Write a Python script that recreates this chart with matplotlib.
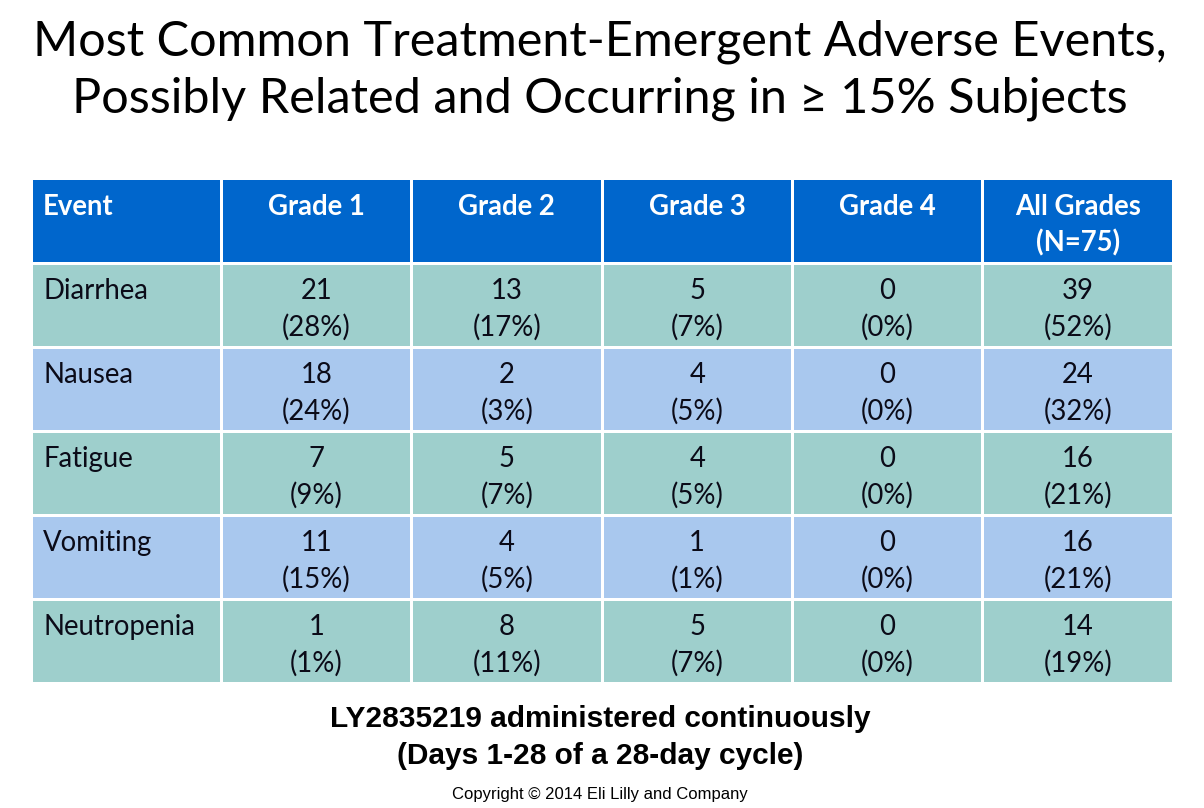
import matplotlib.pyplot as plt
from matplotlib.patches import Rectangle

title = ["Most Common Treatment-Emergent Adverse Events,",
         "Possibly Related and Occurring in \u2265 15% Subjects"]
columns = ["Event", "Grade 1", "Grade 2", "Grade 3", "Grade 4", "All Grades\n(N=75)"]
events = ["Diarrhea", "Nausea", "Fatigue", "Vomiting", "Neutropenia"]
counts = [
    [21, 13, 5, 0, 39],
    [18, 2, 4, 0, 24],
    [7, 5, 4, 0, 16],
    [11, 4, 1, 0, 16],
    [1, 8, 5, 0, 14],
]
pcts = [
    [28, 17, 7, 0, 52],
    [24, 3, 5, 0, 32],
    [9, 7, 5, 0, 21],
    [15, 5, 1, 0, 21],
    [1, 11, 7, 0, 19],
]
subtitle = ["LY2835219 administered continuously", "(Days 1-28 of a 28-day cycle)"]
footer = "Copyright \u00a9 2014 Eli Lilly and Company"

header_col = "#0066CC"
row_cols = ["#9ECFCC", "#A9C8EE"]
text_col = "#0B0B18"

fig = plt.figure(figsize=(12.04, 8.08), dpi=100)
ax = fig.add_axes([0, 0, 1, 1])
ax.set_xlim(0, 1204)
ax.set_ylim(808, 0)
ax.axis("off")

body_font = "Lato"
fs = 19.8

# title
ax.text(600, 42, title[0], ha="center", va="center", fontsize=35, family=body_font, color="black")
ax.text(600, 99, title[1], ha="center", va="center", fontsize=35, family=[body_font, "DejaVu Sans"], color="black")

# table geometry
left, right = 31, 1173
top, head_h, row_h = 180, 83, 84
col_w = (right - left) / len(columns)
gap = 1.5

# header
for j, name in enumerate(columns):
    x0 = left + j * col_w
    ax.add_patch(Rectangle((x0 + gap, top), col_w - 2 * gap, head_h - gap, facecolor=header_col, edgecolor="none"))
    if j == 0:
        ax.text(x0 + 12, top + 27, name, ha="left", va="center", fontsize=fs, weight="bold", color="white", family=body_font)
    else:
        for k, line in enumerate(name.split("\n")):
            ax.text(x0 + col_w / 2, top + 27 + k * 36, line, ha="center", va="center", fontsize=fs, weight="bold", color="white", family=body_font)

# body rows
for i, ev in enumerate(events):
    y0 = top + head_h + i * row_h
    fc = row_cols[i % 2]
    for j in range(len(columns)):
        x0 = left + j * col_w
        ax.add_patch(Rectangle((x0 + gap, y0 + gap), col_w - 2 * gap, row_h - 2 * gap, facecolor=fc, edgecolor="none"))
    ax.text(left + 12, y0 + 28, ev, ha="left", va="center", fontsize=fs, color=text_col, family=body_font)
    for j in range(len(counts[i])):
        xc = left + (j + 1.5) * col_w
        ax.text(xc, y0 + 28, str(counts[i][j]), ha="center", va="center", fontsize=fs, color=text_col, family=body_font)
        ax.text(xc, y0 + 64, "(%d%%)" % pcts[i][j], ha="center", va="center", fontsize=fs, color=text_col, family=body_font)

# notes
ax.text(600, 719, subtitle[0], ha="center", va="center", fontsize=21.5, weight="bold", family="Liberation Sans", color="black")
ax.text(600, 756, subtitle[1], ha="center", va="center", fontsize=21.5, weight="bold", family="Liberation Sans", color="black")
ax.text(600, 795, footer, ha="center", va="center", fontsize=12, family="Liberation Sans", color="black")

fig.savefig("out.png", dpi=100)
